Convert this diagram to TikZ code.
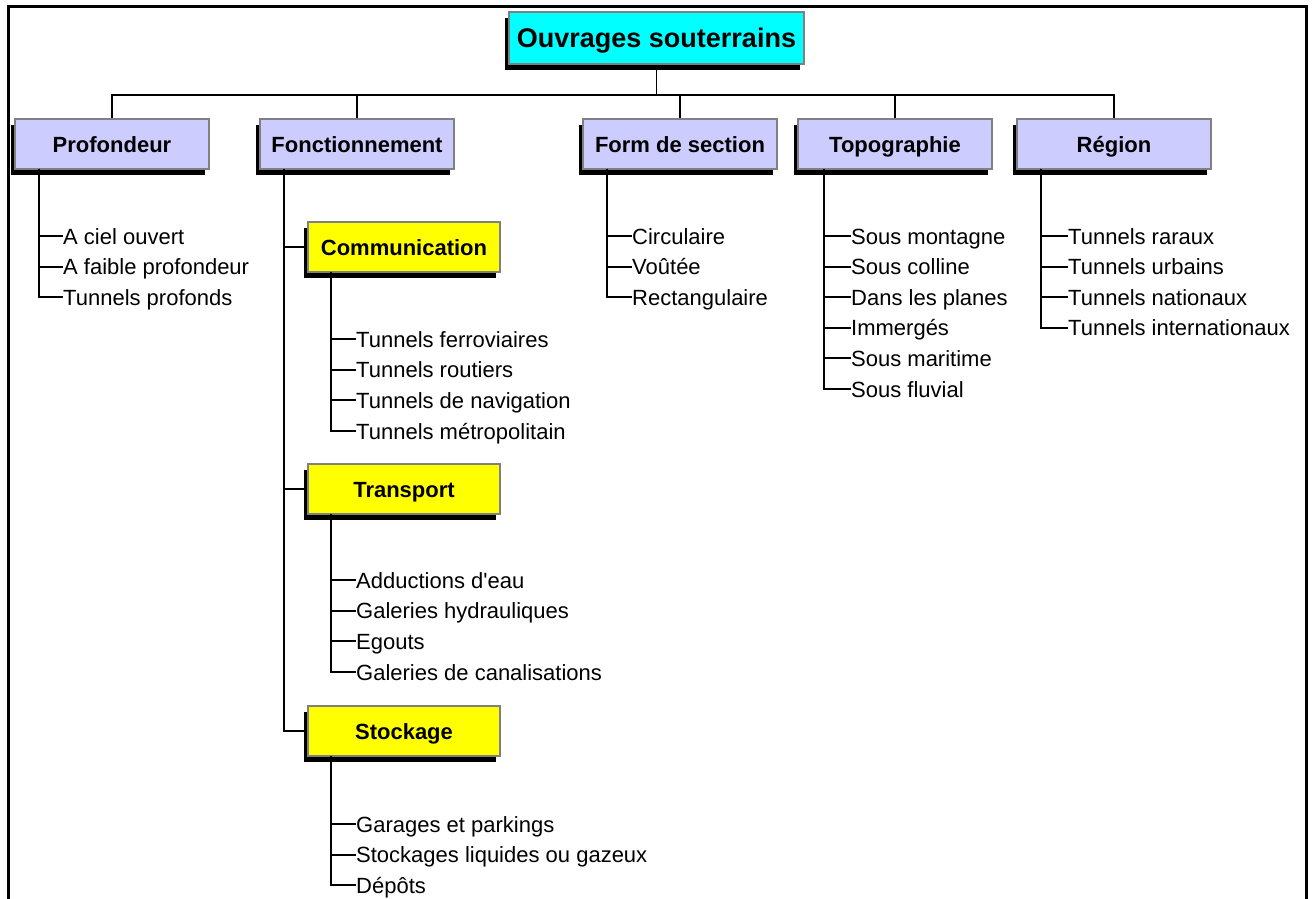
\documentclass[tikz,border=0pt]{standalone}
\usepackage{fontspec}
\setmainfont{Liberation Sans}[Ligatures=TeXOff]
\usetikzlibrary{shadows}
\definecolor{catfill}{RGB}{204,204,255}
\definecolor{boxedge}{RGB}{128,128,128}
\definecolor{titlefill}{RGB}{0,255,255}
\definecolor{subfill}{RGB}{255,255,0}
\begin{document}
\begin{tikzpicture}[x=1pt,y=-1pt,
  shad/.style={drop shadow={shadow xshift=-4pt,shadow yshift=-6pt,fill=black,opacity=1}},
  titlebox/.style={draw=boxedge,line width=1.5pt,fill=titlefill,minimum width=295pt,minimum height=52pt,inner sep=0pt,text height=20pt,text depth=0pt,font=\fontsize{27}{32}\selectfont\bfseries,shad},
  catbox/.style={draw=boxedge,line width=1.5pt,fill=catfill,minimum width=194pt,minimum height=50pt,inner sep=0pt,text height=16pt,text depth=0pt,font=\fontsize{22}{26}\selectfont\bfseries,shad},
  subbox/.style={draw=boxedge,line width=1.5pt,fill=subfill,minimum width=192pt,minimum height=50pt,inner sep=0pt,text height=16pt,text depth=0pt,font=\fontsize{22}{26}\selectfont\bfseries,shad},
  item/.style={anchor=west,inner sep=0pt,text height=20pt,text depth=4pt,font=\fontsize{22}{26}\selectfont},
  link/.style={draw=black,line width=1.9pt},
  frame/.style={draw=black,line width=3pt}]
\useasboundingbox (0,0) rectangle (1312,899);
\draw[frame] (8,899) -- (8,7) -- (1306,7) -- (1306,899);

% boxes
\node[titlebox] (title) at (656.5,38) {Ouvrages souterrains};
\node[catbox] (pro) at (112,144) {Profondeur};
\node[catbox] (fon) at (357,144) {Fonctionnement};
\node[catbox] (frm) at (680,144) {Form de section};
\node[catbox] (top) at (895,144) {Topographie};
\node[catbox] (reg) at (1114,144) {Région};
\node[subbox] (com) at (404,247) {Communication};
\node[subbox] (tra) at (404,489) {Transport};
\node[subbox] (sto) at (404,731) {Stockage};

% bus
\coordinate (bus) at (656.5,95);
\draw[link] (title.south) -- (bus);
\draw[link] (pro.north) |- (bus) -| (reg.north);
\draw[link] (fon.north) -- (fon.north |- bus);
\draw[link] (frm.north) -- (frm.north |- bus);
\draw[link] (top.north) -- (top.north |- bus);

% Profondeur
\node[item] (p1) at (63,236) {A ciel ouvert};
\node[item] (p2) at (63,266.6) {A faible profondeur};
\node[item] (p3) at (63,297) {Tunnels profonds};
\coordinate (pt) at (39,169);
\draw[link] (pt) |- (p3.west);
\foreach \n in {p1,p2} \draw[link] (pt |- \n.west) -- (\n.west);

% Fonctionnement
\coordinate (ft) at (284,169);
\draw[link] (ft) |- (sto.west);
\draw[link] (ft |- com.west) -- (com.west);
\draw[link] (ft |- tra.west) -- (tra.west);

\node[item] (c1) at (356,339) {Tunnels ferroviaires};
\node[item] (c2) at (356,369.6) {Tunnels routiers};
\node[item] (c3) at (356,400.2) {Tunnels de navigation};
\node[item] (c4) at (356,431) {Tunnels métropolitain};
\coordinate (ct) at (331,272);
\draw[link] (ct) |- (c4.west);
\foreach \n in {c1,c2,c3} \draw[link] (ct |- \n.west) -- (\n.west);

\node[item] (t1) at (356,580) {Adductions d'eau};
\node[item] (t2) at (356,610.6) {Galeries hydrauliques};
\node[item] (t3) at (356,641.2) {Egouts};
\node[item] (t4) at (356,672) {Galeries de canalisations};
\coordinate (tt) at (331,514);
\draw[link] (tt) |- (t4.west);
\foreach \n in {t1,t2,t3} \draw[link] (tt |- \n.west) -- (\n.west);

\node[item] (s1) at (356,824) {Garages et parkings};
\node[item] (s2) at (356,854.6) {Stockages liquides ou gazeux};
\node[item] (s3) at (356,885) {Dépôts};
\coordinate (st) at (331,756);
\draw[link] (st) |- (s3.west);
\foreach \n in {s1,s2} \draw[link] (st |- \n.west) -- (\n.west);

% Form de section
\node[item] (f1) at (632,236) {Circulaire};
\node[item] (f2) at (632,266.6) {Voûtée};
\node[item] (f3) at (632,297) {Rectangulaire};
\coordinate (fs) at (607,169);
\draw[link] (fs) |- (f3.west);
\foreach \n in {f1,f2} \draw[link] (fs |- \n.west) -- (\n.west);

% Topographie
\node[item] (o1) at (851,236) {Sous montagne};
\node[item] (o2) at (851,266.6) {Sous colline};
\node[item] (o3) at (851,297.2) {Dans les planes};
\node[item] (o4) at (851,327.8) {Immergés};
\node[item] (o5) at (851,358.4) {Sous maritime};
\node[item] (o6) at (851,389) {Sous fluvial};
\coordinate (ot) at (824,169);
\draw[link] (ot) |- (o6.west);
\foreach \n in {o1,o2,o3,o4,o5} \draw[link] (ot |- \n.west) -- (\n.west);

% Region
\node[item] (r1) at (1068,236) {Tunnels raraux};
\node[item] (r2) at (1068,266.6) {Tunnels urbains};
\node[item] (r3) at (1068,297.2) {Tunnels nationaux};
\node[item] (r4) at (1068,327.8) {Tunnels internationaux};
\coordinate (rt) at (1041,169);
\draw[link] (rt) |- (r4.west);
\foreach \n in {r1,r2,r3} \draw[link] (rt |- \n.west) -- (\n.west);
\end{tikzpicture}
\end{document}
